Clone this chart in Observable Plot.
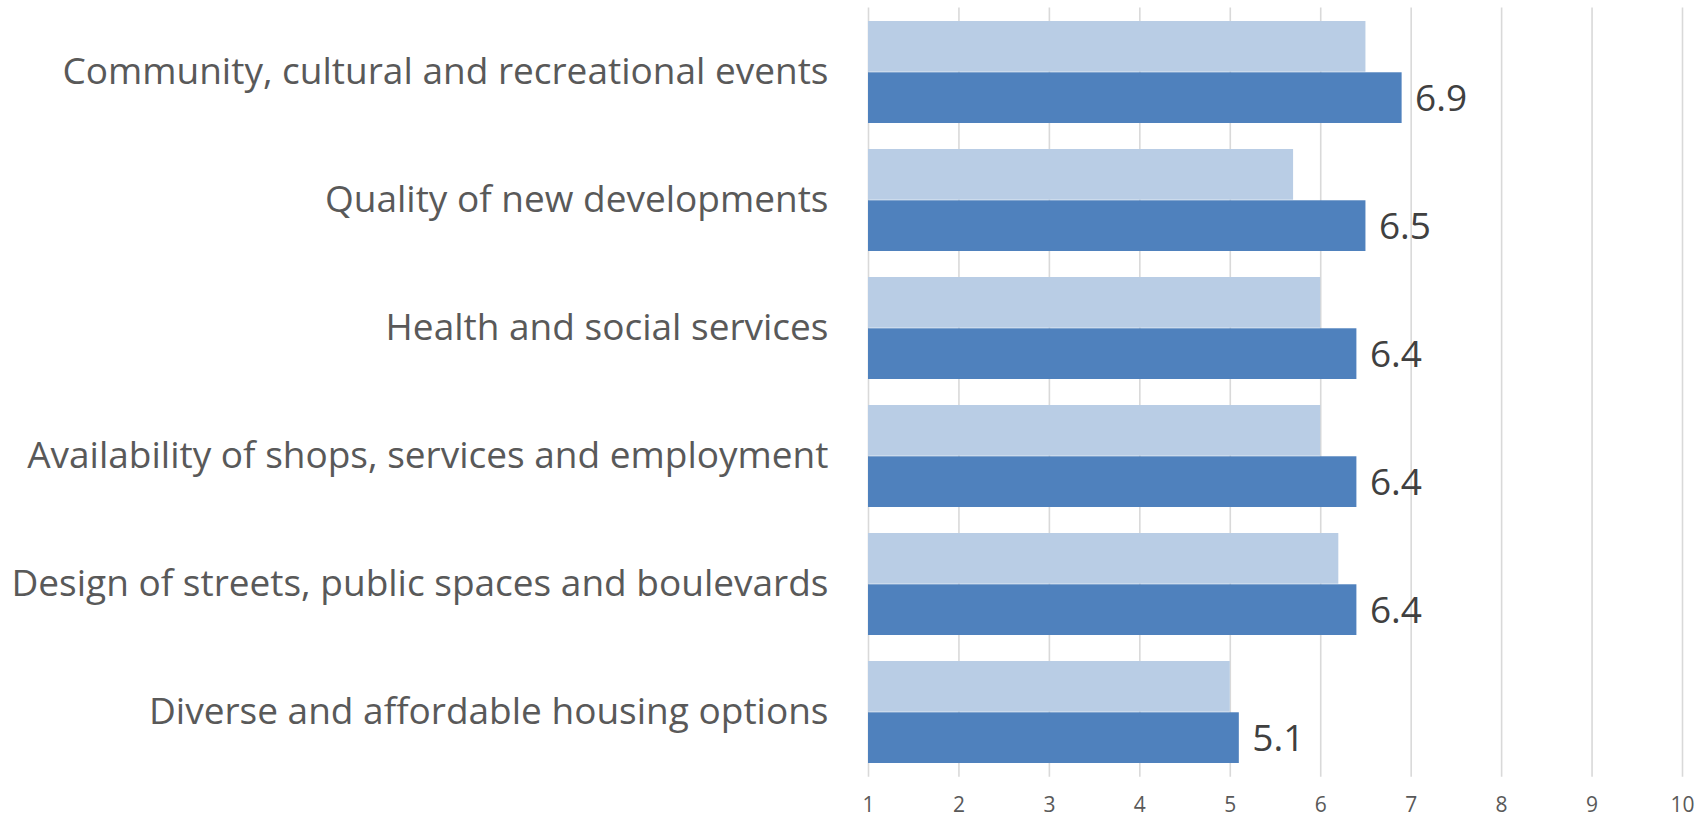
<!DOCTYPE html>
<html>
<head>
<meta charset="utf-8">
<script src="https://cdn.jsdelivr.net/npm/d3@7"></script>
<script src="https://cdn.jsdelivr.net/npm/@observablehq/plot@0.6"></script>
<style>
  html, body { margin: 0; padding: 0; background: #ffffff; }
  #chart svg { display: block; }
</style>
</head>
<body>
<div id="chart"></div>
<script>
// ---- Data ----
const categories = [
  "Community, cultural and recreational events",
  "Quality of new developments",
  "Health and social services",
  "Availability of shops, services and employment",
  "Design of streets, public spaces and boulevards",
  "Diverse and affordable housing options"
];
const previousValues = [6.5, 5.7, 6.0, 6.0, 6.2, 5.0];
const currentValues  = [6.9, 6.5, 6.4, 6.4, 6.4, 5.1];
const xTicks = [1, 2, 3, 4, 5, 6, 7, 8, 9, 10];

const rows = categories.map((c, i) => ({
  category: c,
  previous: previousValues[i],
  current: currentValues[i]
}));

// ---- Layout ----
const W = 1707, H = 819;
const mt = 7.5, mb = 42.3, ml = 868, mr = 25;
const padIn = 0.2, padOut = 0.1;
const step = (H - mt - mb) / (categories.length - padIn + 2 * padOut);
const bw = step * (1 - padIn);
const baseline = () => xTicks[0];

const chart = Plot.plot({
  width: W,
  height: H,
  marginTop: mt,
  marginBottom: mb,
  marginLeft: ml,
  marginRight: mr,
  style: { fontFamily: "'Open Sans', Lato, sans-serif", background: "#ffffff" },
  x: { domain: [xTicks[0], xTicks[xTicks.length - 1]] },
  y: { domain: categories, paddingInner: padIn, paddingOuter: padOut, align: 0.5 },
  marks: [
    Plot.gridX(xTicks, { stroke: "#d9d9d9", strokeOpacity: 1, strokeWidth: 1.6 }),
    Plot.barX(rows, {
      y: "category", x1: baseline, x2: "previous",
      fill: "#B9CDE5", insetBottom: bw / 2
    }),
    Plot.barX(rows, {
      y: "category", x1: baseline, x2: "current",
      fill: "#4F81BD", insetTop: bw / 2
    }),
    Plot.text(rows, {
      y: "category", x: "current",
      text: d => d.current.toFixed(1),
      dx: 13, dy: bw / 4 + 1,
      textAnchor: "start", fontSize: 37, fill: "#404040"
    }),
    Plot.axisX(xTicks, {
      anchor: "bottom", tickSize: 0, tickPadding: 20,
      fontSize: 21, fill: "#595959", label: null
    }),
    Plot.axisY({
      anchor: "left", tickSize: 0, tickPadding: 40,
      fontSize: 37, fill: "#595959", label: null
    })
  ]
});

document.getElementById("chart").appendChild(chart);
</script>
</body>
</html>
